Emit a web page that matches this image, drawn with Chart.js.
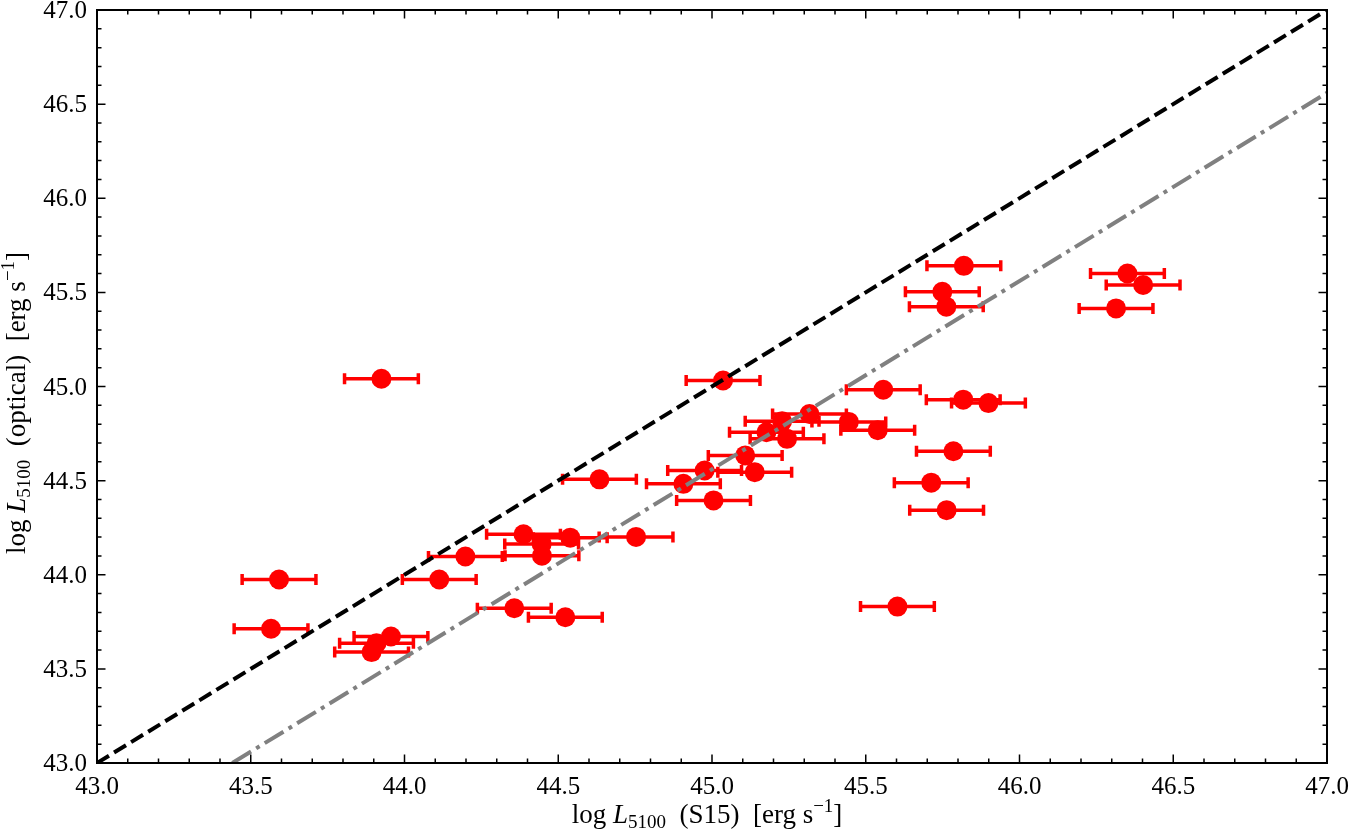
<!DOCTYPE html>
<html>
<head>
<meta charset="utf-8">
<script src="https://cdn.jsdelivr.net/npm/chart.js@4.4.1/dist/chart.umd.min.js"></script>
<style>
  html, body { margin: 0; padding: 0; background: #fff; }
  #wrap { width: 1350px; height: 833px; }
</style>
</head>
<body>
<div id="wrap"><canvas id="lumChart" width="1350" height="833"></canvas></div>
<script>
// log L5100 from S15 (x) and from optical spectra (y), with x errors
const lumS15 = [
  43.925, 43.592, 43.566, 43.956, 43.909, 43.893, 44.198, 44.113, 44.357, 44.523,
  44.387, 44.446, 44.447, 44.539, 44.753, 44.634, 44.907, 44.976, 45.005, 45.036,
  45.108, 45.139, 45.177, 45.228, 45.244, 45.317, 45.445, 45.539, 45.557, 45.603,
  45.713, 45.763, 45.785, 45.817, 45.899, 45.749, 45.762, 45.819, 46.351, 46.402,
  46.314
];
const lumOptical = [
  45.041, 43.975, 43.713, 43.672, 43.636, 43.589, 44.097, 43.975, 43.822, 43.774,
  44.215, 44.164, 44.101, 44.197, 44.201, 44.507, 44.483, 44.554, 44.395, 45.032,
  44.634, 44.545, 44.757, 44.815, 44.722, 44.854, 44.812, 44.768, 44.983, 43.831,
  44.489, 44.343, 44.656, 44.930, 44.912, 45.503, 45.424, 45.641, 45.600, 45.539,
  45.415
];
const lumS15Err = [
  0.12, 0.12, 0.12, 0.12, 0.12, 0.12, 0.12, 0.12, 0.12, 0.12,
  0.12, 0.12, 0.12, 0.12, 0.12, 0.12, 0.12, 0.12, 0.12, 0.12,
  0.12, 0.12, 0.12, 0.12, 0.12, 0.12, 0.12, 0.12, 0.12, 0.12,
  0.12, 0.12, 0.12, 0.12, 0.12, 0.12, 0.12, 0.12, 0.12, 0.12,
  0.12
];

// one-to-one line and offset (dash-dot) line
const oneToOneX = [43.0, 47.0];
const oneToOneY = [43.0, 47.0];
const offsetX = [43.44, 47.0];
const offsetY = [43.0, 46.56];

const tickValues = [43.0, 43.5, 44.0, 44.5, 45.0, 45.5, 46.0, 46.5, 47.0];
const axisMin = 43.0;
const axisMax = 47.0;

const SERIF = '"Liberation Serif", "DejaVu Serif", serif';

function toPoints(xs, ys) {
  return xs.map((v, i) => ({ x: v, y: ys[i] }));
}

// horizontal error bars with caps, under the markers
const errorBars = {
  id: 'xErrorBars',
  beforeDatasetsDraw(chart) {
    const { ctx, scales: { x, y } } = chart;
    ctx.save();
    ctx.strokeStyle = '#ff0000';
    ctx.lineWidth = 3.5;
    lumS15.forEach((v, i) => {
      const py = y.getPixelForValue(lumOptical[i]);
      const x0 = x.getPixelForValue(v - lumS15Err[i]);
      const x1 = x.getPixelForValue(v + lumS15Err[i]);
      ctx.beginPath();
      ctx.moveTo(x0, py); ctx.lineTo(x1, py);
      ctx.moveTo(x0, py - 5.5); ctx.lineTo(x0, py + 5.5);
      ctx.moveTo(x1, py - 5.5); ctx.lineTo(x1, py + 5.5);
      ctx.stroke();
    });
    ctx.restore();
  }
};

function drawRich(ctx, parts, cx, baseY) {
  let total = 0;
  parts.forEach(p => { ctx.font = p.font; p.w = ctx.measureText(p.t).width; total += p.w; });
  let xPos = cx - total / 2;
  parts.forEach(p => {
    ctx.font = p.font;
    ctx.fillText(p.t, xPos, baseY + p.dy);
    xPos += p.w;
  });
}

function labelParts(middle) {
  const reg = `27px ${SERIF}`;
  const ita = `italic 27px ${SERIF}`;
  const sml = `19px ${SERIF}`;
  return [
    { t: 'log ', font: reg, dy: 0 },
    { t: 'L', font: ita, dy: 0 },
    { t: '5100', font: sml, dy: 5 },
    { t: '  (' + middle + ')  [erg s', font: reg, dy: 0 },
    { t: '\u22121', font: sml, dy: -11 },
    { t: ']', font: reg, dy: 0 }
  ];
}

// frame, inward ticks on all four sides, tick labels, axis titles
const frame = {
  id: 'frame',
  afterDraw(chart) {
    const { ctx, chartArea: a, scales: { x, y } } = chart;
    ctx.save();
    ctx.strokeStyle = '#000';
    ctx.lineWidth = 1.5;
    ctx.beginPath();
    for (let i = 0; i <= 40; i++) {
      const v = axisMin + i * 0.1;
      const len = i % 5 === 0 ? 8.5 : 4.5;
      const px = x.getPixelForValue(v);
      const py = y.getPixelForValue(v);
      ctx.moveTo(px, a.bottom); ctx.lineTo(px, a.bottom - len);
      ctx.moveTo(px, a.top); ctx.lineTo(px, a.top + len);
      ctx.moveTo(a.left, py); ctx.lineTo(a.left + len, py);
      ctx.moveTo(a.right, py); ctx.lineTo(a.right - len, py);
    }
    ctx.stroke();
    ctx.lineWidth = 2;
    ctx.strokeRect(a.left, a.top, a.right - a.left, a.bottom - a.top);

    ctx.fillStyle = '#000';
    ctx.font = `25px ${SERIF}`;
    ctx.textBaseline = 'alphabetic';
    ctx.textAlign = 'center';
    x.ticks.forEach(t => {
      ctx.fillText(t.value.toFixed(1), x.getPixelForValue(t.value), a.bottom + 31);
    });
    ctx.textAlign = 'right';
    y.ticks.forEach(t => {
      ctx.fillText(t.value.toFixed(1), a.left - 10, y.getPixelForValue(t.value) + 8);
    });

    ctx.textAlign = 'left';
    drawRich(ctx, labelParts('S15'), (a.left + a.right) / 2 - 5, 823);
    ctx.translate(25, 403);
    ctx.rotate(-Math.PI / 2);
    drawRich(ctx, labelParts('optical'), 0, 0);
    ctx.restore();
  }
};

new Chart(document.getElementById('lumChart'), {
  type: 'scatter',
  data: {
    datasets: [
      {
        data: toPoints(oneToOneX, oneToOneY),
        showLine: true,
        borderColor: '#000000',
        borderWidth: 4,
        borderDash: [14, 6],
        pointRadius: 0,
        order: 0
      },
      {
        data: toPoints(offsetX, offsetY),
        showLine: true,
        borderColor: '#808080',
        borderWidth: 4,
        borderDash: [22, 6, 4, 6],
        pointRadius: 0,
        order: 0
      },
      {
        data: toPoints(lumS15, lumOptical),
        backgroundColor: '#ff0000',
        borderWidth: 0,
        pointRadius: 10,
        pointHoverRadius: 10,
        order: 1
      }
    ]
  },
  options: {
    responsive: false,
    devicePixelRatio: 1,
    animation: false,
    layout: { padding: { top: 7, right: 23, left: 0, bottom: 0 } },
    plugins: { legend: { display: false }, tooltip: { enabled: false } },
    scales: {
      x: {
        type: 'linear',
        min: axisMin,
        max: axisMax,
        grid: { display: false, drawTicks: false },
        border: { display: false },
        afterBuildTicks: s => { s.ticks = tickValues.map(v => ({ value: v })); },
        afterFit: s => { s.height = 70; s.paddingLeft = 0; s.paddingRight = 0; },
        ticks: { display: false }
      },
      y: {
        type: 'linear',
        min: axisMin,
        max: axisMax,
        grid: { display: false, drawTicks: false },
        border: { display: false },
        afterBuildTicks: s => { s.ticks = tickValues.map(v => ({ value: v })); },
        afterFit: s => { s.width = 97; s.paddingTop = 0; s.paddingBottom = 0; },
        ticks: { display: false }
      }
    }
  },
  plugins: [errorBars, frame]
});
</script>
</body>
</html>
